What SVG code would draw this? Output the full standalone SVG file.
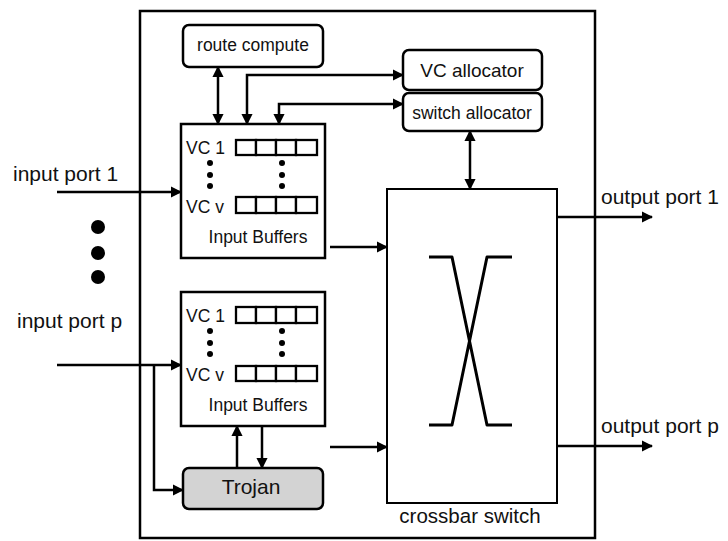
<svg xmlns="http://www.w3.org/2000/svg" width="728" height="541" viewBox="0 0 728 541">
<defs>
<marker id="ah" viewBox="0 0 10 10" refX="9" refY="5" markerWidth="4.5" markerHeight="4.5" orient="auto-start-reverse" markerUnits="strokeWidth"><path d="M0,0 L10,5 L0,10 z" fill="#000"/></marker>
<style>
.box{fill:#fff;stroke:#000;stroke-width:2.5}
.cell{fill:#fff;stroke:#000;stroke-width:2.3}
.ln{fill:none;stroke:#000;stroke-width:2.5}
.t{font-family:"Liberation Sans",Arial,sans-serif;font-size:17.5px;fill:#111}
.tl{font-family:"Liberation Sans",Arial,sans-serif;font-size:21px;fill:#111}
</style>
</defs>
<rect width="728" height="541" fill="#fff"/>
<g id="router">
<rect x="140" y="11" width="455" height="527" fill="none" stroke="#000" stroke-width="2.5"/>
</g>
<g id="route-compute">
<rect class="box" x="183" y="25" width="140" height="42" rx="6"/>
<text class="t" x="253" y="51" text-anchor="middle">route compute</text>
</g>
<g id="vc-allocator">
<rect class="box" x="403" y="50" width="139" height="40" rx="6"/>
<text class="t" x="472" y="77" text-anchor="middle" style="font-size:19px">VC allocator</text>
</g>
<g id="switch-allocator">
<rect class="box" x="403" y="93" width="139" height="38" rx="6"/>
<text class="t" x="472" y="119" text-anchor="middle">switch allocator</text>
</g>
<g id="input-buffers-1">
<rect class="box" x="181" y="124" width="144" height="134"/>
<text class="t" x="186" y="154">VC 1</text>
<rect class="cell" x="236" y="140" width="20" height="15"/><rect class="cell" x="256" y="140" width="20" height="15"/><rect class="cell" x="276" y="140" width="20" height="15"/><rect class="cell" x="296" y="140" width="21" height="15"/>
<text class="t" x="186" y="213">VC v</text>
<rect class="cell" x="236" y="197" width="20" height="16"/><rect class="cell" x="256" y="197" width="20" height="16"/><rect class="cell" x="276" y="197" width="20" height="16"/><rect class="cell" x="296" y="197" width="21" height="16"/>
<circle cx="210" cy="163" r="3"/><circle cx="210" cy="175" r="3"/><circle cx="210" cy="186" r="3"/>
<circle cx="282" cy="163" r="3"/><circle cx="282" cy="175" r="3"/><circle cx="282" cy="186" r="3"/>
<text class="t" x="258" y="243" text-anchor="middle">Input Buffers</text>
</g>
<g id="input-buffers-p">
<rect class="box" x="181" y="292" width="144" height="134"/>
<text class="t" x="186" y="322">VC 1</text>
<rect class="cell" x="236" y="307" width="20" height="16"/><rect class="cell" x="256" y="307" width="20" height="16"/><rect class="cell" x="276" y="307" width="20" height="16"/><rect class="cell" x="296" y="307" width="21" height="16"/>
<text class="t" x="186" y="381">VC v</text>
<rect class="cell" x="236" y="366" width="20" height="15"/><rect class="cell" x="256" y="366" width="20" height="15"/><rect class="cell" x="276" y="366" width="20" height="15"/><rect class="cell" x="296" y="366" width="21" height="15"/>
<circle cx="210" cy="331" r="3"/><circle cx="210" cy="343" r="3"/><circle cx="210" cy="354" r="3"/>
<circle cx="282" cy="331" r="3"/><circle cx="282" cy="343" r="3"/><circle cx="282" cy="354" r="3"/>
<text class="t" x="258" y="411" text-anchor="middle">Input Buffers</text>
</g>
<g id="trojan">
<rect x="183" y="468" width="140" height="41" rx="6" fill="#d3d3d3" stroke="#000" stroke-width="2.5"/>
<text x="251" y="494" text-anchor="middle" font-family="Liberation Sans, Arial, sans-serif" font-size="21" fill="#111">Trojan</text>
</g>
<g id="crossbar-switch">
<rect x="387" y="189" width="170" height="314" fill="#fff" stroke="#000" stroke-width="2"/>
<path d="M429,257 H452 L487,425 H512 M512,257 H487 L452,425 H429" fill="none" stroke="#000" stroke-width="3" stroke-linejoin="round"/>
<text class="t" x="470" y="523" text-anchor="middle" style="font-size:20.5px">crossbar switch</text>
</g>
<g id="labels">
<text class="tl" x="13" y="181">input port 1</text>
<text class="tl" x="17" y="328">input port p</text>
<text class="tl" x="601" y="204">output port 1</text>
<text class="tl" x="601" y="433">output port p</text>
<circle cx="98" cy="227" r="7"/><circle cx="98" cy="253" r="7"/><circle cx="98" cy="277" r="7"/>
</g>
<g id="connectors">
<line class="ln" x1="218" y1="67" x2="218" y2="124" marker-start="url(#ah)" marker-end="url(#ah)"/>
<polyline class="ln" points="247,124 247,75 403,75" marker-start="url(#ah)" marker-end="url(#ah)"/>
<polyline class="ln" points="279,124 279,104 403,104" marker-start="url(#ah)" marker-end="url(#ah)"/>
<line class="ln" x1="470" y1="131" x2="470" y2="189" marker-start="url(#ah)" marker-end="url(#ah)"/>
<line class="ln" x1="57" y1="192" x2="181" y2="192" marker-end="url(#ah)"/>
<line class="ln" x1="57" y1="365" x2="181" y2="365" marker-end="url(#ah)"/>
<polyline class="ln" points="154,365 154,490 183,490" marker-end="url(#ah)"/>
<line class="ln" x1="237" y1="468" x2="237" y2="426" marker-end="url(#ah)"/>
<line class="ln" x1="262" y1="426" x2="262" y2="468" marker-end="url(#ah)"/>
<line class="ln" x1="330" y1="247" x2="387" y2="247" marker-end="url(#ah)"/>
<line class="ln" x1="330" y1="447" x2="387" y2="447" marker-end="url(#ah)"/>
<line class="ln" x1="557" y1="217" x2="652" y2="217" marker-end="url(#ah)"/>
<line class="ln" x1="557" y1="446" x2="652" y2="446" marker-end="url(#ah)"/>
</g>
</svg>
